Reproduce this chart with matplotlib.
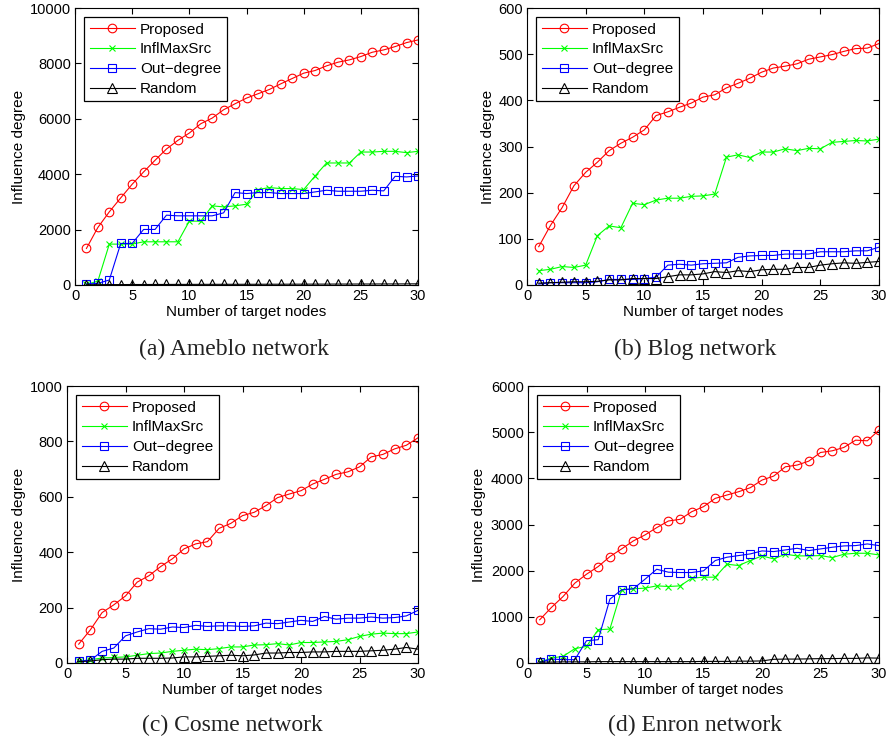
"""
Influence degree vs. number of target nodes for four networks (2x2 panels).
"""

import numpy as np
import matplotlib.pyplot as plt

plt.rcParams["font.family"] = ["Liberation Sans", "DejaVu Sans"]
plt.rcParams["font.size"] = 11

# ── Data ─────────────────────────────────────────────────────────
nodes = np.arange(1, 31)

ameblo_proposed = [1320, 2077, 2641, 3145, 3637, 4082, 4502, 4910, 5222, 5486,
                   5822, 6026, 6327, 6543, 6747, 6903, 7059, 7263, 7455, 7647,
                   7743, 7911, 8043, 8127, 8247, 8403, 8487, 8607, 8751, 8847]
ameblo_inflmax = [20, 140, 1476, 1476, 1476, 1560, 1560, 1560, 1560, 2305,
                  2305, 2857, 2820, 2857, 2917, 3445, 3517, 3481, 3481, 3445,
                  3937, 4405, 4405, 4405, 4800, 4800, 4826, 4826, 4778, 4826]
ameblo_outdeg = [36, 60, 180, 1500, 1500, 2005, 2005, 2521, 2497, 2497,
                 2497, 2497, 2605, 3337, 3301, 3337, 3337, 3301, 3301, 3301,
                 3361, 3421, 3385, 3385, 3385, 3421, 3397, 3925, 3901, 3937]
ameblo_random = [10, 12, 15, 15, 18, 18, 20, 20, 22, 22,
                 24, 24, 25, 25, 26, 26, 28, 28, 30, 30,
                 32, 32, 34, 34, 36, 36, 38, 38, 40, 42]

blog_proposed = [83, 129, 168, 215, 244, 266, 291, 307, 320, 336,
                 367, 375, 385, 394, 407, 412, 427, 437, 448, 461,
                 470, 474, 479, 489, 494, 499, 506, 512, 513, 523]
blog_inflmax = [31, 34, 40, 38, 43, 107, 128, 124, 177, 174,
                184, 188, 188, 192, 193, 197, 277, 282, 276, 288,
                288, 295, 291, 296, 295, 309, 311, 313, 312, 316]
blog_outdeg = [2, 5, 5, 5, 5, 7, 12, 12, 12, 14,
               17, 43, 45, 43, 46, 47, 48, 60, 63, 64,
               64, 67, 67, 67, 72, 72, 72, 74, 74, 82]
blog_random = [4, 5, 6, 7, 7, 8, 11, 11, 14, 14,
               14, 18, 22, 22, 24, 29, 27, 31, 29, 33,
               34, 34, 38, 38, 43, 46, 48, 47, 49, 51]

cosme_proposed = [68, 120, 182, 210, 242, 292, 315, 348, 376, 412,
                  430, 438, 486, 504, 532, 544, 568, 597, 610, 622,
                  646, 663, 681, 690, 708, 744, 753, 773, 786, 813]
cosme_inflmax = [6, 12, 18, 20, 22, 28, 34, 36, 42, 46,
                 50, 48, 52, 58, 58, 65, 66, 70, 65, 74,
                 74, 76, 78, 84, 96, 104, 108, 106, 106, 112]
cosme_outdeg = [6, 10, 42, 54, 98, 112, 124, 122, 130, 128,
                136, 132, 134, 134, 132, 134, 144, 142, 148, 154,
                150, 168, 158, 162, 162, 166, 162, 164, 170, 190]
cosme_random = [5, 7, 12, 14, 14, 17, 17, 17, 18, 22,
                22, 24, 26, 28, 26, 29, 36, 36, 38, 38,
                40, 40, 42, 42, 42, 44, 46, 50, 56, 50]

enron_proposed = [936, 1203, 1441, 1729, 1923, 2089, 2305, 2471, 2644, 2774,
                  2932, 3076, 3112, 3278, 3386, 3566, 3638, 3710, 3797, 3962,
                  4049, 4250, 4287, 4373, 4560, 4596, 4669, 4827, 4813, 5043]
enron_inflmax = [14, 108, 144, 310, 360, 720, 735, 1585, 1607, 1621,
                 1671, 1657, 1671, 1837, 1859, 1859, 2140, 2111, 2219, 2320,
                 2255, 2356, 2320, 2320, 2327, 2284, 2356, 2377, 2377, 2341]
enron_outdeg = [14, 86, 72, 72, 483, 504, 1383, 1585, 1607, 1815,
                2031, 1967, 1960, 1960, 1996, 2219, 2291, 2327, 2363, 2428,
                2413, 2449, 2485, 2435, 2471, 2507, 2536, 2543, 2579, 2543]
enron_random = [20, 20, 25, 25, 25, 30, 30, 30, 30, 30,
                30, 30, 30, 30, 35, 35, 35, 40, 40, 45,
                80, 85, 85, 90, 95, 95, 100, 100, 110, 105]

# ── Layout (pixels of an 891x742 figure) ────────────────────────
W, H = 891, 742
panels = [
    # (left, top, right, bottom), ymax, ystep, series, caption, caption xy, ylabel x
    ((75, 8, 418, 285), 10000, 2000,
     (ameblo_proposed, ameblo_inflmax, ameblo_outdeg, ameblo_random),
     "(a) Ameblo network", (234, 349), 26),
    ((527, 8, 879, 285), 600, 100,
     (blog_proposed, blog_inflmax, blog_outdeg, blog_random),
     "(b) Blog network", (695, 349), 495),
    ((67, 386, 418, 663), 1000, 200,
     (cosme_proposed, cosme_inflmax, cosme_outdeg, cosme_random),
     "(c) Cosme network", (232, 725), 26),
    ((528, 386, 879, 663), 6000, 1000,
     (enron_proposed, enron_inflmax, enron_outdeg, enron_random),
     "(d) Enron network", (695, 725), 486),
]

labels = ["Proposed", "InflMaxSrc", "Out\u2212degree", "Random"]
colors = ["#ff0000", "#00ff00", "#0000ff", "#000000"]
markers = ["o", "x", "s", "^"]
msizes = [6.2, 5, 6, 7.5]

fig = plt.figure(figsize=(W / 100, H / 100), dpi=100)

for (l, t, r, b), ymax, ystep, series, caption, (cx, cy), ylx in panels:
    ax = fig.add_axes([l / W, 1 - b / H, (r - l) / W, (b - t) / H])
    for vals, lab, col, mk, ms in zip(series, labels, colors, markers, msizes):
        ax.plot(nodes, vals, color=col, marker=mk, markersize=ms,
                markerfacecolor="none", markeredgecolor=col,
                markeredgewidth=0.8, linewidth=0.8, label=lab)
    ax.set_xlim(0, 30)
    ax.set_ylim(0, ymax)
    ax.set_xticks(range(0, 31, 5))
    ax.set_yticks(np.arange(0, ymax + 1, ystep))
    ax.tick_params(direction="in", top=True, right=True, length=4,
                   width=0.8, labelsize=10.5, pad=3)
    for sp in ax.spines.values():
        sp.set_linewidth(0.8)
    ax.set_xlabel("Number of target nodes", labelpad=1)
    ax.set_ylabel("Influence degree")
    ax.yaxis.set_label_coords((ylx - l) / (r - l), 0.5)

    leg = ax.legend(loc="upper left", fontsize=11, handlelength=3.0,
                    handletextpad=0.3, labelspacing=0.38, borderpad=0.35,
                    fancybox=False, framealpha=1, edgecolor="black",
                    borderaxespad=0.6)
    leg.get_frame().set_linewidth(0.9)

    fig.text(cx / W, 1 - cy / H, caption, ha="center", va="center",
             fontsize=17, family=["Liberation Serif", "DejaVu Serif"],
             color="#222222")

fig.savefig("out.png", dpi=100, facecolor="white")
plt.close()
